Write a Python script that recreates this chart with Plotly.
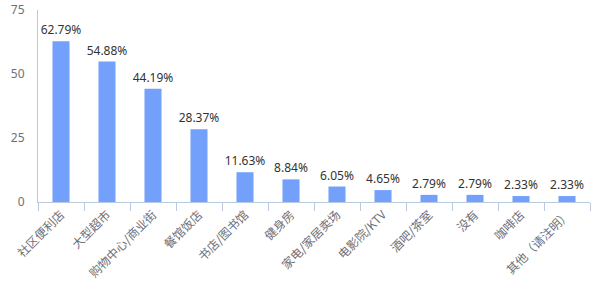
import plotly.graph_objects as go

categories = ["社区便利店", "大型超市", "购物中心/商业街", "餐馆饭店", "书店/图书馆", "健身房",
              "家电/家居卖场", "电影院/KTV", "酒吧/茶室", "没有", "咖啡店", "其他（请注明）"]
values = [62.79, 54.88, 44.19, 28.37, 11.63, 8.84, 6.05, 4.65, 2.79, 2.79, 2.33, 2.33]
y_ticks = [0, 25, 50, 75]

font_family = "Noto Sans CJK SC, Noto Sans, sans-serif"

fig = go.Figure(go.Bar(
    x=categories, y=values,
    marker=dict(color="#73a0fa", line=dict(width=0)),
    text=[f"{v:.2f}%" for v in values],
    textposition="outside",
    constraintext="none",
    cliponaxis=False,
    textfont=dict(family="Noto Sans, sans-serif", size=12, color="#333333"),
))

fig.update_layout(
    width=600, height=300,
    margin=dict(l=38, r=10, t=10, b=98, autoexpand=False),
    paper_bgcolor="white", plot_bgcolor="white",
    bargap=0.63,
    showlegend=False,
    font=dict(family=font_family, size=12, color="#6e7079"),
)
fig.update_xaxes(
    type="category",
    automargin=False,
    tickangle=-45,
    showline=True, linecolor="#b9cbe0", linewidth=1,
    ticks="outside", ticklen=8, tickcolor="#b9cbe0",
    tickson="boundaries",
    showgrid=False,
    tickfont=dict(family=font_family, size=12, color="#6e7079"),
)
fig.update_yaxes(
    range=[0, 75],
    automargin=False,
    tickvals=y_ticks,
    showline=True, linecolor="#b9cbe0", linewidth=1,
    showgrid=False, zeroline=False,
    ticks="", ticklabelstandoff=10,
    tickfont=dict(family="Noto Sans, sans-serif", size=12, color="#6e7079"),
)

fig.write_html("out.html")
